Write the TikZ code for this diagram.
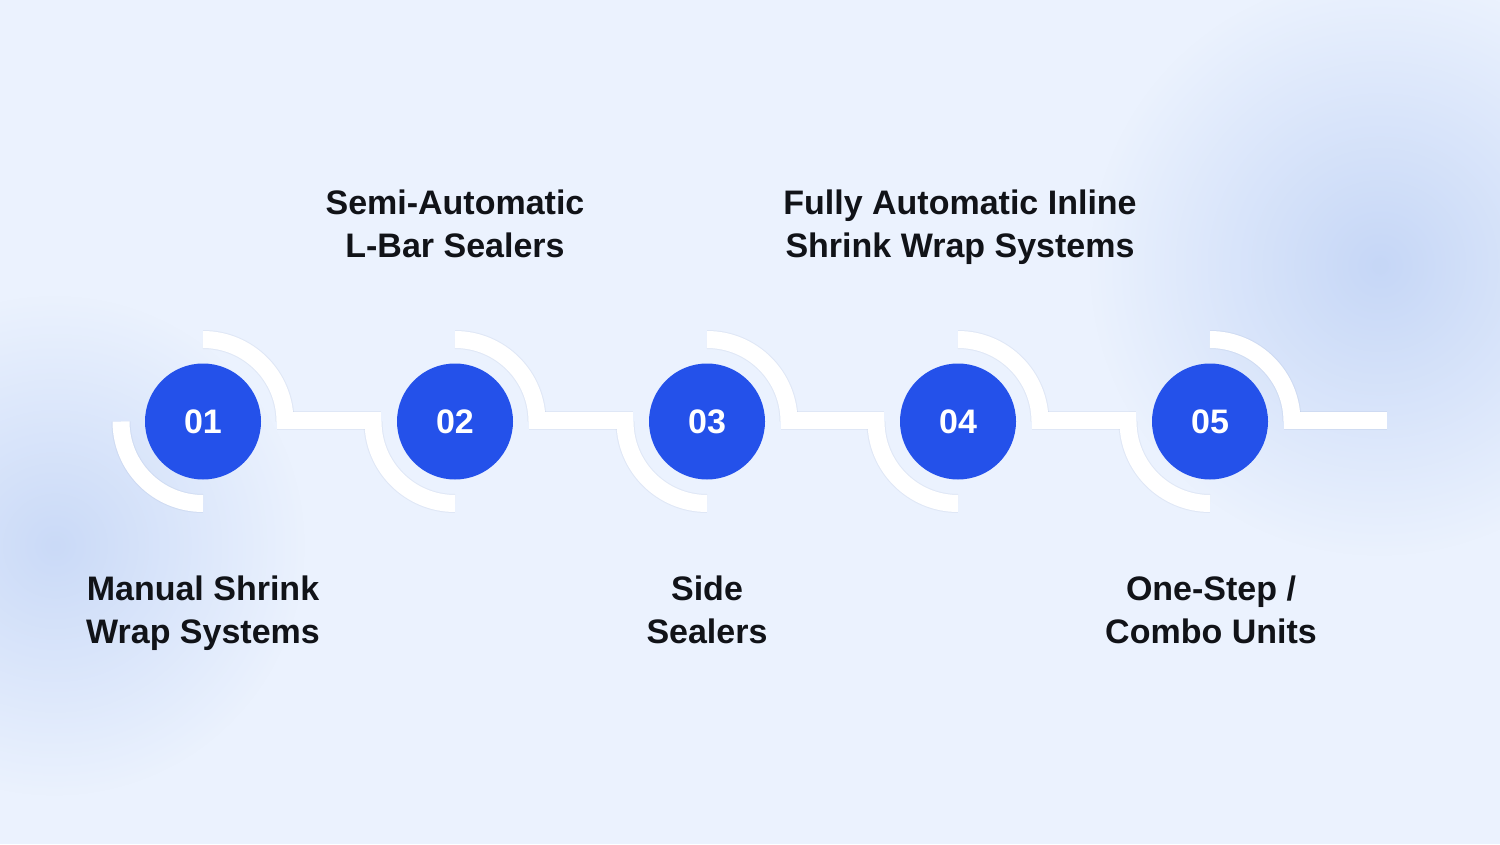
\documentclass[tikz,border=0pt]{standalone}
\usepackage{fontspec}
\setmainfont{Liberation Sans}
\usetikzlibrary{fadings}
\definecolor{bgbase}{HTML}{EBF2FE}
\definecolor{blobblue}{HTML}{C2D4F6}
\definecolor{dotblue}{HTML}{2451EA}
\definecolor{inkdark}{HTML}{111318}
\definecolor{shadowcol}{HTML}{5A6E9A}
\tikzfading[name=blobfade, inner color=transparent!0, outer color=transparent!100]
\tikzset{
  numdot/.style={circle, fill=dotblue, minimum size=116pt, inner sep=0pt, text=white, font=\fontsize{34}{34}\selectfont\bfseries},
  ringarc/.style={line width=17pt, color=white},
  ringshadow/.style={line width=19pt, color=shadowcol, opacity=0.08},
  steplabel/.style={align=center, text=inkdark, text depth=0pt, font=\fontsize{34}{43}\selectfont\bfseries}
}

\begin{document}
\begin{tikzpicture}[x=1pt, y=1pt]
			%%%%% START %%%%%

			\useasboundingbox (0, -422.5) rectangle (1500, 421.5);
			\fill[bgbase] (0, -422.5) rectangle (1500, 421.5);
			\fill[blobblue, path fading=blobfade, opacity=0.9] (1380, 156) circle (290);
			\fill[blobblue, path fading=blobfade, opacity=0.8] (55, -124) circle (250);

			\node[numdot] (c1) at (203, 0) {01};
			\node[numdot] (c2) at (455, 0) {02};
			\node[numdot] (c3) at (707, 0) {03};
			\node[numdot] (c4) at (958, 0) {04};
			\node[numdot] (c5) at (1210, 0) {05};
			\coordinate (tail) at (1387, 1);

			% shadows
			\draw[ringshadow, yshift=-3pt] (c1.center) ++(0, 82) arc (90:0:82);
			\draw[ringshadow, yshift=-3pt] (c1.center) ++(-82, 0) arc (180:270:82);
			\draw[ringshadow, yshift=-3pt] (c2.center) ++(0, 82) arc (90:0:82);
			\draw[ringshadow, yshift=-3pt] (c2.center) ++(-82, 0) arc (180:270:82);
			\draw[ringshadow, yshift=-3pt] (c3.center) ++(0, 82) arc (90:0:82);
			\draw[ringshadow, yshift=-3pt] (c3.center) ++(-82, 0) arc (180:270:82);
			\draw[ringshadow, yshift=-3pt] (c4.center) ++(0, 82) arc (90:0:82);
			\draw[ringshadow, yshift=-3pt] (c4.center) ++(-82, 0) arc (180:270:82);
			\draw[ringshadow, yshift=-3pt] (c5.center) ++(0, 82) arc (90:0:82);
			\draw[ringshadow, yshift=-3pt] (c5.center) ++(-82, 0) arc (180:270:82);
			\draw[ringshadow, yshift=-3pt] ([shift={(74, 1)}]c1.center) -- ([shift={(-74, 1)}]c2.center);
			\draw[ringshadow, yshift=-3pt] ([shift={(74, 1)}]c2.center) -- ([shift={(-74, 1)}]c3.center);
			\draw[ringshadow, yshift=-3pt] ([shift={(74, 1)}]c3.center) -- ([shift={(-74, 1)}]c4.center);
			\draw[ringshadow, yshift=-3pt] ([shift={(74, 1)}]c4.center) -- ([shift={(-74, 1)}]c5.center);
			\draw[ringshadow, yshift=-3pt] ([shift={(74, 1)}]c5.center) -- (tail);

			% white rings and bars
			\draw[ringarc] (c1.center) ++(0, 82) arc (90:0:82);
			\draw[ringarc] (c1.center) ++(-82, 0) arc (180:270:82);
			\draw[ringarc] (c2.center) ++(0, 82) arc (90:0:82);
			\draw[ringarc] (c2.center) ++(-82, 0) arc (180:270:82);
			\draw[ringarc] (c3.center) ++(0, 82) arc (90:0:82);
			\draw[ringarc] (c3.center) ++(-82, 0) arc (180:270:82);
			\draw[ringarc] (c4.center) ++(0, 82) arc (90:0:82);
			\draw[ringarc] (c4.center) ++(-82, 0) arc (180:270:82);
			\draw[ringarc] (c5.center) ++(0, 82) arc (90:0:82);
			\draw[ringarc] (c5.center) ++(-82, 0) arc (180:270:82);
			\draw[ringarc] ([shift={(74, 1)}]c1.center) -- ([shift={(-74, 1)}]c2.center);
			\draw[ringarc] ([shift={(74, 1)}]c2.center) -- ([shift={(-74, 1)}]c3.center);
			\draw[ringarc] ([shift={(74, 1)}]c3.center) -- ([shift={(-74, 1)}]c4.center);
			\draw[ringarc] ([shift={(74, 1)}]c4.center) -- ([shift={(-74, 1)}]c5.center);
			\draw[ringarc] ([shift={(74, 1)}]c5.center) -- (tail);

			\node[steplabel] (l1) at (203, -188) {Manual Shrink\\Wrap Systems};
			\node[steplabel] (l2) at (455, 197.5) {Semi-Automatic\\L-Bar Sealers};
			\node[steplabel] (l3) at (707, -188) {Side\\Sealers};
			\node[steplabel] (l4) at (960, 197.5) {Fully Automatic Inline\\Shrink Wrap Systems};
			\node[steplabel] (l5) at (1211, -188) {One-Step /\\Combo Units};

			%%%%% END %%%%%
\end{tikzpicture}
\end{document}
